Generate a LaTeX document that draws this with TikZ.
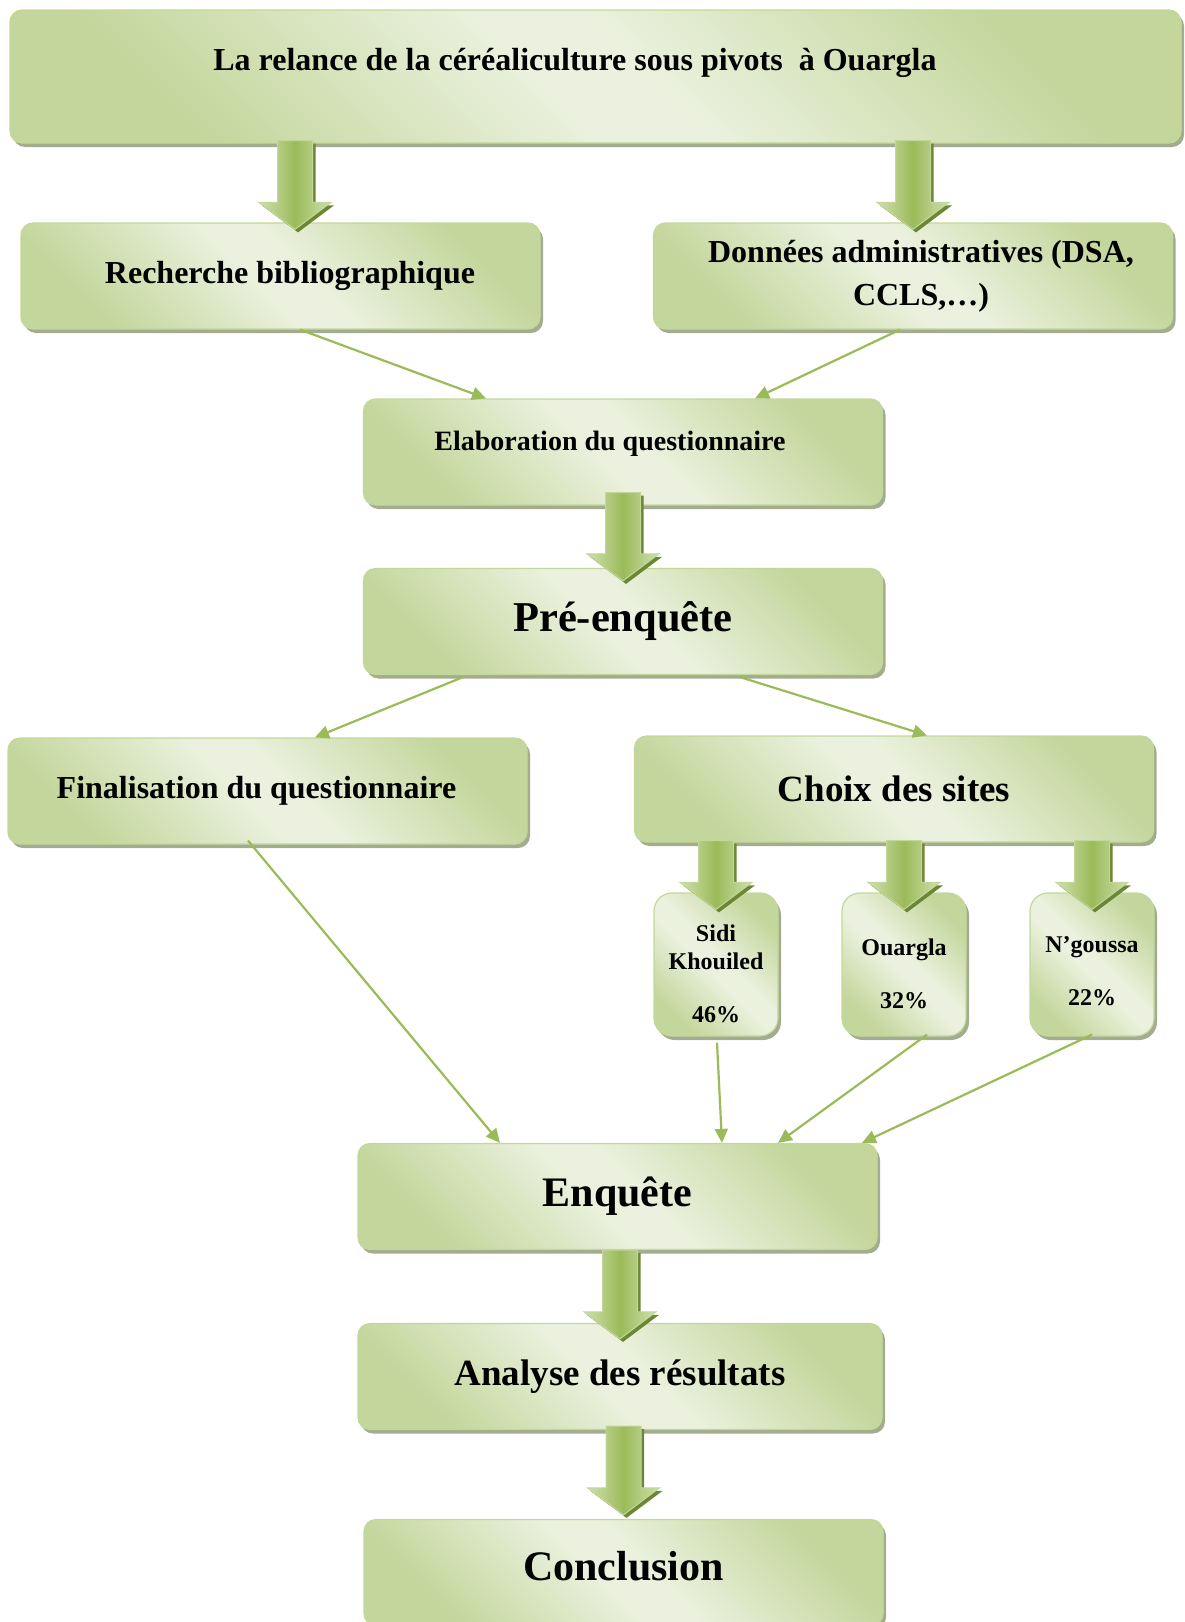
\documentclass[tikz,border=0pt]{standalone}
\usepackage{fontspec}
\setmainfont{Liberation Serif}
\usetikzlibrary{calc,shadows,arrows.meta}

\definecolor{vertclair}{HTML}{EBF1DE}
\definecolor{vertfonce}{HTML}{C3D69B}
\definecolor{vertbord}{HTML}{C2D89A}
\definecolor{ombregris}{HTML}{A3AC8E}
\definecolor{vertligne}{HTML}{9BBB59}
\definecolor{flclair}{HTML}{CFE0AE}
\definecolor{flmoyen}{HTML}{9BBB59}
\definecolor{flbord}{HTML}{C3D69B}
\definecolor{flombre}{HTML}{6B8634}

\pgfdeclarehorizontalshading{degradevert}{100bp}{color(0bp)=(vertfonce); color(25bp)=(vertfonce); color(47bp)=(vertclair); color(53bp)=(vertclair); color(75bp)=(vertfonce); color(100bp)=(vertfonce)}

\tikzset{
  boite/.style={draw=vertbord, line width=1.2pt, rounded corners=12pt, shade, shading=degradevert, shading angle=45,
    drop shadow={shadow xshift=3pt, shadow yshift=-4pt, fill=ombregris, opacity=1},
    align=center, inner sep=0pt, minimum width=519pt, minimum height=106pt},
  site/.style={boite, rounded corners=18pt, minimum width=124pt, minimum height=143pt, font=\fontsize{24}{28}\selectfont\bfseries},
  fleche/.style={draw=vertligne, line width=2.2pt, -{Triangle[length=14pt,width=13pt]}},
  corpsfleche/.style={draw=flbord, line width=1pt, left color=flclair, right color=flclair, middle color=flmoyen},
  ombrefleche/.style={fill=flombre, transform canvas={xshift=3pt,yshift=-3pt}}
}

% [#1 decalage] #2 source, #3 cible, #4 remontee, #5 enfoncement
\newcommand{\grossefleche}[5][0]{%
  \coordinate (fa) at ([xshift=#1pt,yshift=#4pt]#2.south -| #3.north);
  \coordinate (fb) at ([xshift=#1pt,yshift=-#5pt]#3.north);
  \path[ombrefleche] let \p1=(fa), \p2=(fb) in (\x1-17.5pt,\y1) -- (\x1-17.5pt,\y2+27pt) -- (\x1-36pt,\y2+27pt) -- (\x2,\y2) -- (\x1+36pt,\y2+27pt) -- (\x1+17.5pt,\y2+27pt) -- (\x1+17.5pt,\y1) -- cycle;
  \path[corpsfleche] let \p1=(fa), \p2=(fb) in (\x1-17.5pt,\y1) -- (\x1-17.5pt,\y2+27pt) -- (\x1-36pt,\y2+27pt) -- (\x2,\y2) -- (\x1+36pt,\y2+27pt) -- (\x1+17.5pt,\y2+27pt) -- (\x1+17.5pt,\y1) -- cycle;
}

\begin{document}
\begin{tikzpicture}[x=1pt,y=-1pt]
\useasboundingbox (0,0) rectangle (1184,1622);
\node[boite, minimum width=1171pt, minimum height=133pt] (relance) at (595.5,76.5) {};
\node[font=\fontsize{32}{38}\selectfont\bfseries] (titre) at (575,63) {La relance de la céréaliculture sous pivots\ \ à Ouargla};
\node[boite, font=\fontsize{32}{38}\selectfont\bfseries] (biblio) at (280.5,276) {\hspace*{19pt}Recherche bibliographique};
\node[boite, font=\fontsize{32}{43}\selectfont\bfseries] (donnees) at (913,276) {\hspace*{16pt}Données administratives (DSA,\\\hspace*{16pt}CCLS,…)};
\node[boite, font=\fontsize{28}{34}\selectfont\bfseries] (elab) at (623,452) {\hspace*{-26pt}Elaboration du questionnaire\rule[-22pt]{0pt}{0pt}};
\node[boite, font=\fontsize{42.5}{50}\selectfont\bfseries] (preenq) at (623,621.5) {Pré-enquête};
\node[boite, font=\fontsize{32}{38}\selectfont\bfseries] (final) at (267.5,791) {\hspace*{-22pt}Finalisation du questionnaire};
\node[boite, font=\fontsize{37}{44}\selectfont\bfseries] (choix) at (894,789) {Choix des sites};
\node[site] (sidi) at (716,964.5) {\rule{0pt}{36pt}Sidi\\Khouiled\\[25pt]46\%};
\node[site] (ouargla) at (904,964.5) {\rule{0pt}{36pt}Ouargla\\[25pt]32\%};
\node[site] (ngoussa) at (1092,964.5) {\rule{0pt}{30pt}N'goussa\\[25pt]22\%};
\node[boite, font=\fontsize{42}{50}\selectfont\bfseries] (enquete) at (617.5,1196.5) {Enquête};
\node[boite, minimum width=524pt, font=\fontsize{37}{44}\selectfont\bfseries] (analyse) at (620,1376.5) {Analyse des résultats};
\node[boite, font=\fontsize{42}{50}\selectfont\bfseries] (conclusion) at (623.5,1572.5) {Conclusion\rule[-14pt]{0pt}{0pt}};
\grossefleche[14.5]{relance}{biblio}{3}{7}
\grossefleche{relance}{donnees}{3}{7}
\grossefleche{elab}{preenq}{13}{13}
\grossefleche{choix}{sidi}{2}{17}
\grossefleche{choix}{ouargla}{2}{17}
\grossefleche{choix}{ngoussa}{2}{17}
\grossefleche{enquete}{analyse}{0}{16}
\grossefleche{analyse}{conclusion}{4}{-4}
\draw[fleche] ([xshift=19.5pt]biblio.south) -- ([xshift=-137pt]elab.north);
\draw[fleche] ([xshift=-13pt]donnees.south) -- ([xshift=132pt]elab.north);
\draw[fleche] ([xshift=-160pt,yshift=-2pt]preenq.south) -- ([xshift=47.5pt]final.north);
\draw[fleche] ([xshift=117pt,yshift=-2pt]preenq.south) -- ([xshift=33pt]choix.north);
\draw[fleche] ([xshift=-19.5pt,yshift=4pt]final.south) -- ([xshift=-117.5pt]enquete.north);
\draw[fleche] ([xshift=1pt,yshift=-6pt]sidi.south) -- ([xshift=104.5pt]enquete.north);
\draw[fleche] ([xshift=23pt,yshift=2pt]ouargla.south) -- ([xshift=160.5pt]enquete.north);
\draw[fleche] ([yshift=2pt]ngoussa.south) -- ([xshift=244.5pt]enquete.north);
\end{tikzpicture}
\end{document}
